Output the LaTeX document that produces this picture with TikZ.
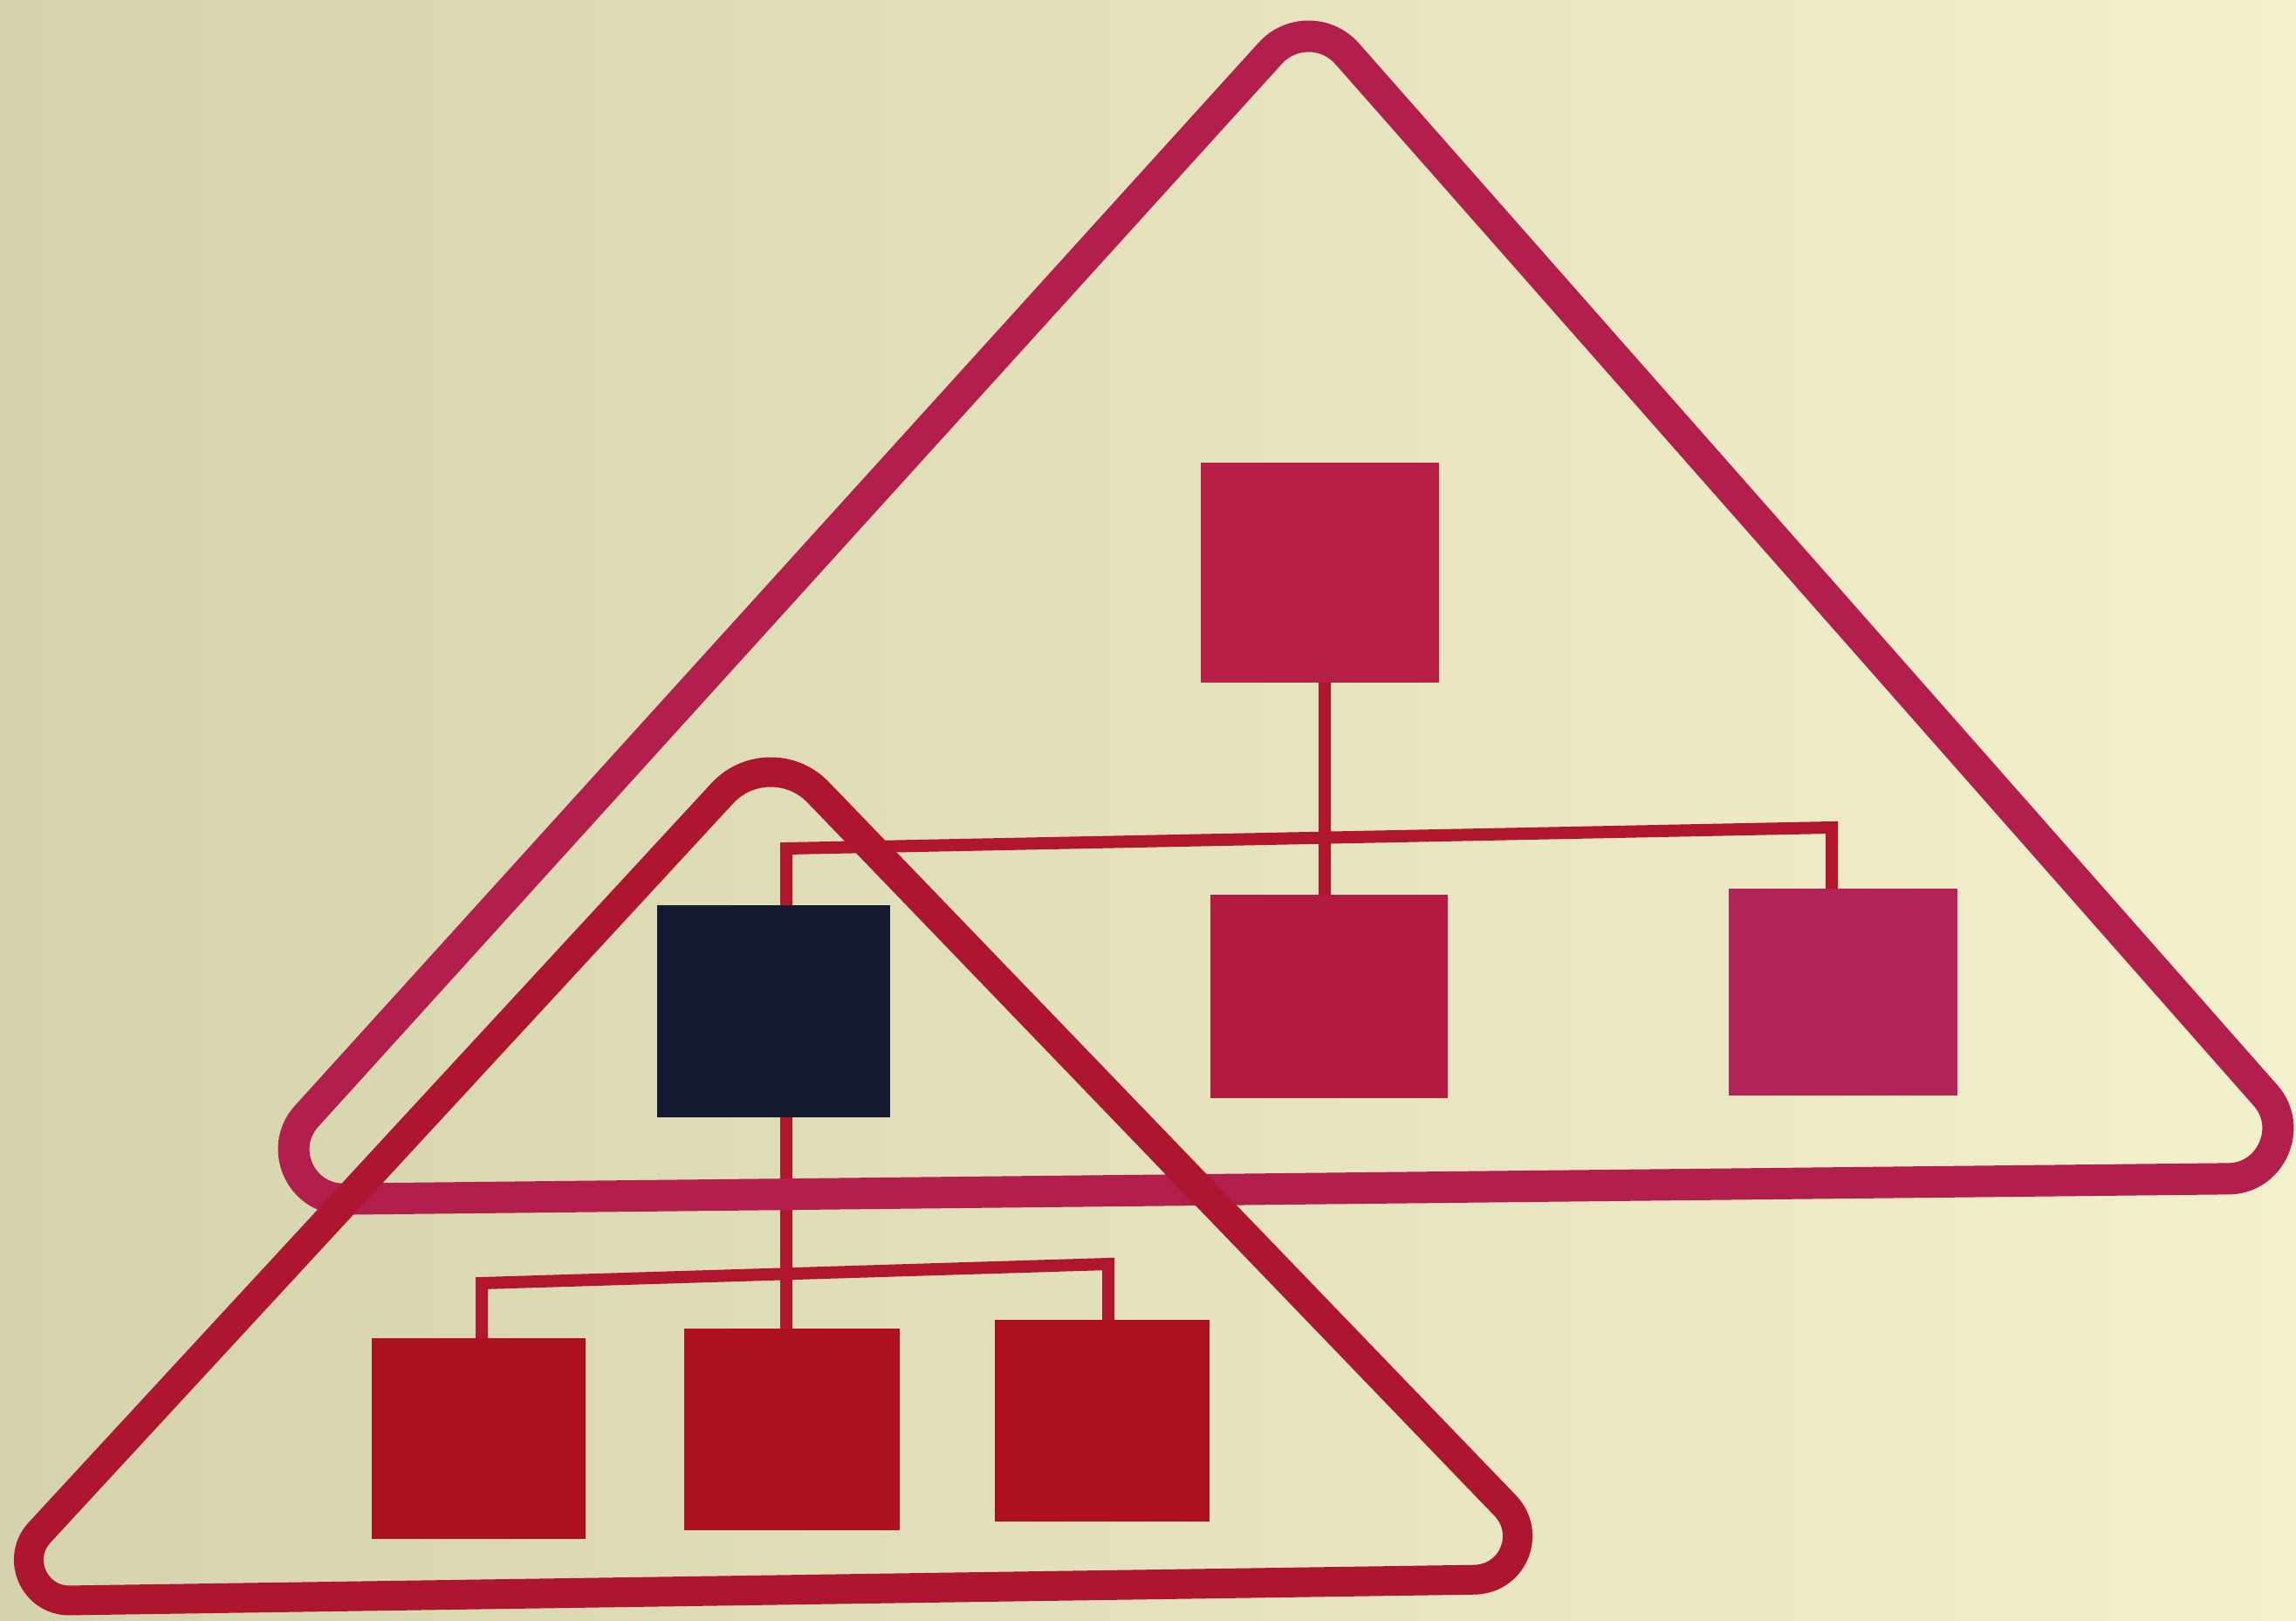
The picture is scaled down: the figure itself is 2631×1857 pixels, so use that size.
\documentclass[tikz,border=0pt]{standalone}
\usetikzlibrary{calc}
\definecolor{bgL}{HTML}{D5D3AB}
\definecolor{bgM}{HTML}{E9E6C1}
\definecolor{bgR}{HTML}{F3F0CC}
\definecolor{bigred}{HTML}{B31F4C}
\definecolor{smallred}{HTML}{AE1530}
\definecolor{topred}{HTML}{B81F47}
\definecolor{midred}{HTML}{B51A42}
\definecolor{pinkred}{HTML}{B3245A}
\definecolor{lowred}{HTML}{AD1020}
\definecolor{conred}{HTML}{B0172F}
\definecolor{navy}{HTML}{151A33}
\begin{document}
\begin{tikzpicture}[x=1pt,y=-1pt,
  box/.style={rectangle, draw=none, inner sep=0pt, outer sep=0pt},
  linkline/.style={draw=conred, line width=14pt, line join=miter, line cap=butt},
  bigtri/.style={draw=bigred, line width=36pt, line join=round},
  smalltri/.style={draw=smallred, line width=34pt, line join=round}]
\fill[left color=bgL, middle color=bgM, right color=bgR] (0,0) rectangle (2631,1857);
\useasboundingbox (0,0) rectangle (2631,1857);

% boxes
\node[box, fill=topred, minimum width=273pt, minimum height=252pt] (T) at (1512.5,656) {};
\node[box, fill=midred, minimum width=272pt, minimum height=233pt] (M) at (1523,1141.5) {};
\node[box, fill=pinkred, minimum width=262pt, minimum height=237pt] (R) at (2112,1136.5) {};
\node[box, fill=navy, minimum width=267pt, minimum height=243pt] (K) at (886.5,1158.5) {};
\node[box, fill=lowred, minimum width=245pt, minimum height=230pt] (A) at (548.5,1648) {};
\node[box, fill=lowred, minimum width=247pt, minimum height=231pt] (B) at (907.5,1637.5) {};
\node[box, fill=lowred, minimum width=246pt, minimum height=231pt] (C) at (1263,1627.5) {};

% connectors
\coordinate (jl) at (901,972);
\coordinate (jr) at (2099,948);
\coordinate (jm) at (1518,960);
\coordinate (kl) at (552,1470);
\coordinate (kr) at (1270,1448);
\coordinate (kv) at (901,1459);
\draw[linkline] (K.north -| jl) -- (jl) -- (jr) -- (R.north -| jr);
\draw[linkline] (T.south -| jm) -- (M.north -| jm);
\draw[linkline] (K.south -| kv) -- (B.north -| kv);
\draw[linkline] (A.north -| kl) -- (kl) -- (kr) -- (C.north -| kr);

% big triangle (corners as circular-arc approximations)
\coordinate (bA) at (1500,12);
\coordinate (bL) at (264,1375);
\coordinate (bR) at (2679,1349);
\coordinate (bL1) at ($(bL)!130pt!(bR)$);
\coordinate (bL2) at ($(bL)!130pt!(bA)$);
\coordinate (bR1) at ($(bR)!125pt!(bL)$);
\coordinate (bR2) at ($(bR)!125pt!(bA)$);
\coordinate (bA1) at ($(bA)!66pt!(bR)$);
\coordinate (bA2) at ($(bA)!66pt!(bL)$);
\draw[bigtri] (bL1) -- (bR1)
  .. controls ($(bR1)!0.386!(bR)$) and ($(bR2)!0.386!(bR)$) .. (bR2)
  -- (bA1)
  .. controls ($(bA1)!0.533!(bA)$) and ($(bA2)!0.533!(bA)$) .. (bA2)
  -- (bL2)
  .. controls ($(bL2)!0.38!(bL)$) and ($(bL1)!0.38!(bL)$) .. (bL1) -- cycle;

% small triangle
\coordinate (sA) at (882,850);
\coordinate (sL) at (-28,1835);
\coordinate (sR) at (1805,1808);
\coordinate (sL1) at ($(sL)!108pt!(sR)$);
\coordinate (sL2) at ($(sL)!108pt!(sA)$);
\coordinate (sR1) at ($(sR)!116pt!(sL)$);
\coordinate (sR2) at ($(sR)!116pt!(sA)$);
\coordinate (sA1) at ($(sA)!80pt!(sR)$);
\coordinate (sA2) at ($(sA)!80pt!(sL)$);
\draw[smalltri] (sL1) -- (sR1)
  .. controls ($(sR1)!0.386!(sR)$) and ($(sR2)!0.386!(sR)$) .. (sR2)
  -- (sA1)
  .. controls ($(sA1)!0.543!(sA)$) and ($(sA2)!0.543!(sA)$) .. (sA2)
  -- (sL2)
  .. controls ($(sL2)!0.376!(sL)$) and ($(sL1)!0.376!(sL)$) .. (sL1) -- cycle;
\end{tikzpicture}
\end{document}
